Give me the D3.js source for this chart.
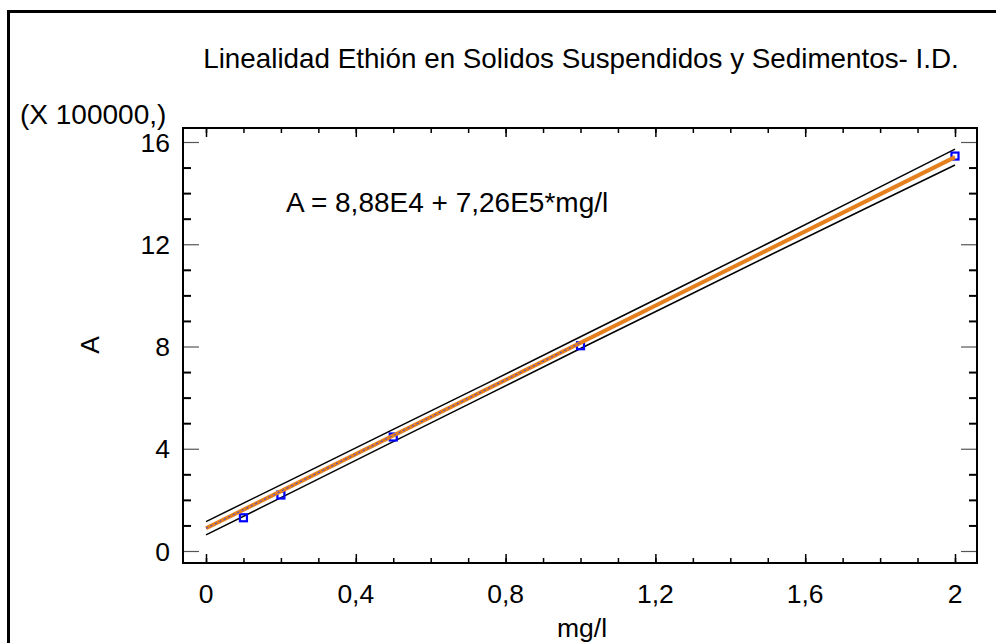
<!DOCTYPE html>
<html>
<head>
<meta charset="utf-8">
<script src="https://cdn.jsdelivr.net/npm/d3@7/dist/d3.min.js"></script>
<style>
  html, body { margin: 0; padding: 0; background: #fff; }
  svg { display: block; }
  text { font-family: "Liberation Sans", Arial, sans-serif; fill: #000; }
</style>
</head>
<body>
<svg id="chart" width="996" height="643"></svg>
<script>
// Calibration data: concentration (mg/l) vs. response A
const concentrations = [0.1, 0.2, 0.5, 1.0, 2.0];
const responses = [130000, 219000, 446000, 803000, 1545000];

// Fitted model A = 8,88E4 + 7,26E5*mg/l
const intercept = 88800;
const slope = 726000;

// Prediction limits read along the concentration range
const limitX = [0, 0.25, 0.5, 0.75, 1.0, 1.25, 1.5, 1.75, 2.0];
const upperLimit = [115000, 295000, 476000, 656000, 838000, 1020000, 1203000, 1387000, 1572000];
const lowerLimit = [63000, 245000, 428000, 610000, 792000, 972000, 1153000, 1332000, 1510000];

const xTicks = [0, 0.4, 0.8, 1.2, 1.6, 2];
const xTickLabels = ["0", "0,4", "0,8", "1,2", "1,6", "2"];
const yTicks = [0, 4, 8, 12, 16];
const yTickLabels = ["0", "4", "8", "12", "16"];

const titleText = "Linealidad Ethión en Solidos Suspendidos y Sedimentos- I.D.";
const equationText = "A = 8,88E4 + 7,26E5*mg/l";
const xTitle = "mg/l";
const yTitle = "A";
const yMultiplier = "(X 100000,)";

const svg = d3.select("#chart");

// plot box
const box = { left: 183, right: 977, top: 128, bottom: 563 };

const x = d3.scaleLinear().domain([0, 2]).range([206, 955]);
const y = d3.scaleLinear().domain([0, 1600000]).range([551, 142]);

// outer frame
svg.append("rect")
  .attr("x", 8.5).attr("y", 11.5)
  .attr("width", 1100).attr("height", 800)
  .attr("fill", "none").attr("stroke", "#000").attr("stroke-width", 3);

// title
svg.append("text")
  .attr("x", 581).attr("y", 68)
  .attr("text-anchor", "middle")
  .attr("font-size", 27.8)
  .text(titleText);

// multiplier label
svg.append("text")
  .attr("x", 20).attr("y", 124)
  .attr("font-size", 28)
  .text(yMultiplier);

// axes via d3 axis generators, ticks turned inward
const tickStyle = (g, color, width) => g.selectAll(".tick line").attr("stroke", color).attr("stroke-width", width);

function drawAxis(gen, transform) {
  const g = svg.append("g").attr("transform", transform).call(gen);
  g.select(".domain").remove();
  g.selectAll("text").remove();
  return g;
}

const yMinorVals = d3.range(0, 17).map(v => v * 100000).filter(v => v % 400000 !== 0);
const yMajorVals = yTicks.map(v => v * 100000);
const xMinorVals = d3.range(0, 21).map(i => i / 10);

// left axis
tickStyle(drawAxis(d3.axisRight(y).tickValues(yMinorVals).tickSize(8), `translate(${box.left},0)`), "#000", 2);
tickStyle(drawAxis(d3.axisRight(y).tickValues(yMajorVals).tickSize(16), `translate(${box.left},0)`), "#555", 1.2);
// right axis
tickStyle(drawAxis(d3.axisLeft(y).tickValues(yMinorVals).tickSize(8), `translate(${box.right},0)`), "#000", 2);
tickStyle(drawAxis(d3.axisLeft(y).tickValues(yMajorVals).tickSize(16), `translate(${box.right},0)`), "#555", 1.2);
// bottom axis
tickStyle(drawAxis(d3.axisTop(x).tickValues(xMinorVals).tickSize(5), `translate(0,${box.bottom})`), "#000", 1.5);
tickStyle(drawAxis(d3.axisTop(x).tickValues(xTicks).tickSize(9), `translate(0,${box.bottom})`), "#000", 1.5);
// top axis
tickStyle(drawAxis(d3.axisBottom(x).tickValues(xMinorVals).tickSize(5), `translate(0,${box.top})`), "#000", 1.5);
tickStyle(drawAxis(d3.axisBottom(x).tickValues(xTicks).tickSize(9), `translate(0,${box.top})`), "#000", 1.5);

// plot box border
svg.append("rect")
  .attr("x", box.left).attr("y", box.top)
  .attr("width", box.right - box.left).attr("height", box.bottom - box.top)
  .attr("fill", "none").attr("stroke", "#000").attr("stroke-width", 2);

// tick labels
svg.append("g").selectAll("text").data(yTicks).join("text")
  .attr("x", 170).attr("y", d => y(d * 100000) + 9.5)
  .attr("text-anchor", "end").attr("font-size", 26.5)
  .text((d, i) => yTickLabels[i]);

svg.append("g").selectAll("text").data(xTicks).join("text")
  .attr("x", d => x(d)).attr("y", 603)
  .attr("text-anchor", "middle").attr("font-size", 26.5)
  .text((d, i) => xTickLabels[i]);

// axis titles
svg.append("text")
  .attr("x", 582).attr("y", 637)
  .attr("text-anchor", "middle").attr("font-size", 26.5)
  .text(xTitle);

svg.append("text")
  .attr("transform", "translate(99,345) rotate(-90)")
  .attr("text-anchor", "middle").attr("font-size", 26.5)
  .text(yTitle);

// equation
svg.append("text")
  .attr("x", 286).attr("y", 212)
  .attr("font-size", 28)
  .text(equationText);

// prediction limits
const limitLine = d3.line().x((d, i) => x(limitX[i])).y(d => y(d));
[upperLimit, lowerLimit].forEach(arr => {
  svg.append("path")
    .attr("d", limitLine(arr))
    .attr("fill", "none").attr("stroke", "#000").attr("stroke-width", 1.5);
});

// observations
svg.append("g").selectAll("rect").data(concentrations).join("rect")
  .attr("x", d => x(d) - 3.5)
  .attr("y", (d, i) => y(responses[i]) - 3.5)
  .attr("width", 7).attr("height", 7)
  .attr("fill", "none").attr("stroke", "#0000ff").attr("stroke-width", 2.2);

// fitted line
const fitDomain = [0, 2];
svg.append("line")
  .attr("x1", x(fitDomain[0])).attr("y1", y(intercept + slope * fitDomain[0]))
  .attr("x2", x(fitDomain[1])).attr("y2", y(intercept + slope * fitDomain[1]))
  .attr("stroke", "#e5801f").attr("stroke-width", 4);

// thin dotted trace over the fitted line
svg.append("line")
  .attr("x1", x(0)).attr("y1", y(intercept))
  .attr("x2", x(1)).attr("y2", y(intercept + slope))
  .attr("stroke", "#3040ff").attr("stroke-width", 1).attr("stroke-dasharray", "2,3");
</script>
</body>
</html>
